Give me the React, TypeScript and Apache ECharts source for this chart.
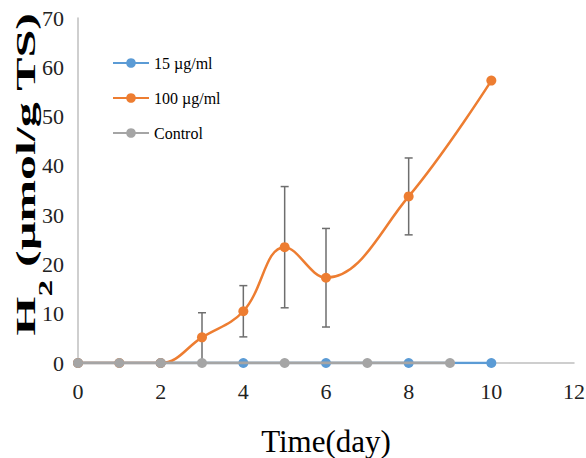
import React, { useEffect, useRef } from "react";
import * as echarts from "echarts";

const seriesNames = ["15 µg/ml", "100 µg/ml", "Control"];
const lowDays = [0, 2, 4, 6, 8, 10];
const lowValues = [0, 0, 0, 0, 0, 0];
const highDays = [0, 1, 2, 3, 4, 5, 6, 8, 10];
const highValues = [0, 0, 0, 5.2, 10.5, 23.5, 17.3, 33.8, 57.3];
const errDays = [3, 4, 5, 6, 8];
const errValues = [5.2, 10.5, 23.5, 17.3, 33.8];
const errSizes = [5.0, 5.2, 12.3, 10.0, 7.8];
const controlDays = [0, 1, 2, 3, 5, 7, 9];
const controlValues = [0, 0, 0, 0, 0, 0, 0];
const colors = ["#5B9BD5", "#ED7D31", "#A5A5A5"];

const FONT = "'Liberation Serif', 'Times New Roman', serif";

export default function App() {
  const ref = useRef<HTMLDivElement>(null);
  useEffect(() => {
    if (!ref.current) return;
    const chart = echarts.init(ref.current, null, { renderer: "svg" });
    const pairs = (xs: number[], ys: number[]) => xs.map((x, i) => [x, ys[i]]);
    const errData = errDays.map((d, i) => [d, errValues[i] - errSizes[i], errValues[i] + errSizes[i]]);
    chart.setOption({
      animation: false,
      backgroundColor: "#fff",
      grid: { left: 78, right: 12, top: 18, bottom: 95, outerBoundsMode: "none", containLabel: false },
      legend: {
        orient: "vertical",
        left: 112,
        top: 55,
        itemWidth: 36,
        itemHeight: 12,
        itemGap: 19,
        padding: 0,
        data: seriesNames,
        textStyle: { fontFamily: FONT, fontSize: 16, color: "#000" },
      },
      xAxis: {
        type: "value",
        min: 0,
        max: 12,
        interval: 2,
        name: "Time(day)",
        nameLocation: "middle",
        nameGap: 63,
        nameTextStyle: { fontFamily: FONT, fontSize: 31, color: "#000" },
        axisLine: { show: true, lineStyle: { color: "#BFBFBF", width: 1.5 } },
        axisTick: { show: false },
        splitLine: { show: false },
        axisLabel: { fontFamily: FONT, fontSize: 22, color: "#222", margin: 17 },
      },
      yAxis: {
        type: "value",
        min: 0,
        max: 70,
        interval: 10,
        axisLine: { show: true, lineStyle: { color: "#BFBFBF", width: 1.5 } },
        axisTick: { show: false },
        splitLine: { show: false },
        axisLabel: { fontFamily: FONT, fontSize: 22, color: "#222", margin: 14 },
      },
      graphic: [
        {
          type: "text",
          x: 24,
          y: 174,
          rotation: Math.PI / 2,
          scaleX: 1.85,
          style: {
            text: "{m|H}{s|2}{m| (µmol/g TS)}",
            align: "center",
            verticalAlign: "middle",
            fill: "#000",
            rich: {
              m: { fontFamily: FONT, fontSize: 27, fontWeight: "bold", lineHeight: 30, verticalAlign: "bottom" },
              s: { fontFamily: FONT, fontSize: 18, fontWeight: "bold", lineHeight: 30, verticalAlign: "bottom", padding: [0, 0, -16, 0] },
            },
          },
        },
      ],
      series: [
        {
          name: seriesNames[0],
          type: "line",
          data: pairs(lowDays, lowValues),
          color: colors[0],
          symbol: "circle",
          symbolSize: 10,
          lineStyle: { width: 2.5 },
          z: 2,
        },
        {
          name: seriesNames[1],
          type: "line",
          data: pairs(highDays, highValues),
          color: colors[1],
          symbol: "circle",
          symbolSize: 10,
          smooth: 0.4,
          lineStyle: { width: 2.5 },
          z: 3,
        },
        {
          name: seriesNames[2],
          type: "line",
          data: pairs(controlDays, controlValues),
          color: colors[2],
          symbol: "circle",
          symbolSize: 10,
          lineStyle: { width: 3 },
          z: 4,
        },
        {
          name: "err",
          type: "custom",
          data: errData,
          encode: { x: 0, y: [1, 2] },
          z: 1,
          renderItem: (params: any, api: any) => {
            const x = api.value(0);
            const lo = api.coord([x, api.value(1)]);
            const hi = api.coord([x, api.value(2)]);
            const cap = 4;
            const style = { stroke: "#6E6E6E", lineWidth: 1.5 };
            return {
              type: "group",
              children: [
                { type: "line", shape: { x1: lo[0], y1: lo[1], x2: hi[0], y2: hi[1] }, style },
                { type: "line", shape: { x1: hi[0] - cap, y1: hi[1], x2: hi[0] + cap, y2: hi[1] }, style },
                { type: "line", shape: { x1: lo[0] - cap, y1: lo[1], x2: lo[0] + cap, y2: lo[1] }, style },
              ],
            };
          },
        },
      ],
    });
    return () => chart.dispose();
  }, []);
  return <div ref={ref} style={{ width: 586, height: 458, position: "absolute", left: 0, top: 0 }} />;
}
